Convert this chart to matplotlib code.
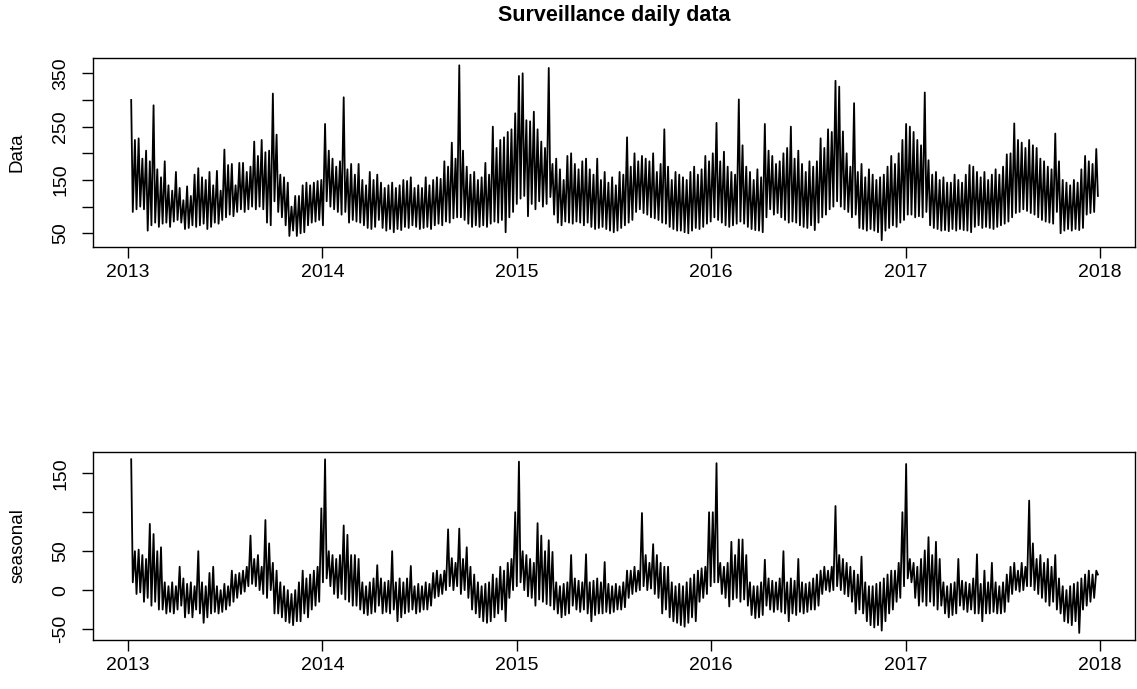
import numpy as np
import pandas as pd
import matplotlib
matplotlib.use("Agg")
import matplotlib.pyplot as plt

plt.rcParams['font.family'] = ['Liberation Sans', 'DejaVu Sans']

title = "Surveillance daily data"
ylabel_top = "Data"
ylabel_bottom = "seasonal"
year_ticks = [2013, 2014, 2015, 2016, 2017, 2018]
start_date = "2013-01-07"   # first observation, one high/low pair per week

# Data: weekly high and weekly low
data_hi_2013 = [300, 225, 228, 190, 205, 185, 290, 170, 155, 185, 140, 130, 165,
                135, 112, 138, 120, 160, 172, 155, 150, 165, 140, 167, 130, 207,
                178, 180, 140, 182, 182, 165, 175, 222, 195, 225, 202, 205, 312,
                235, 160, 155, 145, 100, 120, 120, 140, 145, 140, 145, 148, 150]
data_lo_2013 = [90, 95, 100, 95, 55, 65, 70, 62, 68, 70, 62, 72, 75,
                70, 58, 60, 65, 62, 65, 68, 58, 62, 70, 68, 75, 80,
                85, 82, 90, 95, 90, 95, 100, 95, 100, 95, 70, 65, 110,
                90, 80, 65, 45, 55, 45, 50, 52, 65, 70, 72, 75, 65]
data_hi_2014 = [255, 205, 190, 175, 185, 305, 170, 180, 160, 180, 150, 140, 165,
                150, 160, 145, 135, 140, 145, 135, 140, 150, 148, 155, 135, 140,
                135, 155, 140, 150, 155, 152, 185, 175, 220, 190, 365, 205, 175,
                160, 165, 150, 155, 182, 160, 250, 210, 225, 230, 240, 245, 275]
data_lo_2014 = [110, 100, 95, 90, 85, 90, 70, 75, 72, 70, 65, 60, 58,
                62, 75, 60, 55, 58, 52, 58, 56, 62, 60, 65, 62, 58,
                60, 62, 58, 65, 68, 65, 72, 70, 78, 80, 80, 75, 68,
                62, 65, 62, 65, 62, 68, 72, 70, 75, 52, 80, 90, 105]
data_hi_2015 = [345, 350, 262, 260, 278, 245, 222, 210, 360, 180, 190, 170, 150,
                195, 200, 180, 170, 185, 190, 170, 160, 190, 150, 165, 145, 155,
                140, 165, 160, 230, 175, 200, 185, 195, 190, 185, 200, 165, 180,
                245, 175, 150, 165, 160, 155, 150, 165, 175, 160, 170, 195, 185]
data_lo_2015 = [115, 120, 82, 105, 95, 110, 100, 105, 118, 85, 70, 65, 72,
                70, 68, 72, 70, 65, 70, 62, 58, 60, 62, 58, 55, 52,
                55, 60, 65, 70, 75, 90, 95, 88, 85, 80, 78, 75, 70,
                68, 62, 58, 55, 55, 52, 50, 55, 60, 58, 62, 68, 72]
data_hi_2016 = [200, 257, 185, 203, 175, 165, 160, 301, 215, 175, 165, 150, 170,
                155, 255, 205, 195, 180, 185, 200, 210, 250, 190, 205, 180, 165,
                185, 175, 185, 228, 210, 245, 240, 336, 325, 241, 200, 175, 294,
                165, 180, 155, 170, 160, 150, 155, 160, 175, 195, 180, 200, 225]
data_lo_2016 = [80, 75, 70, 65, 62, 65, 68, 72, 68, 62, 58, 56, 55,
                52, 80, 95, 85, 88, 80, 75, 70, 72, 70, 65, 62, 60,
                65, 56, 70, 80, 85, 95, 100, 110, 100, 95, 90, 80, 85,
                60, 58, 55, 58, 55, 52, 37, 55, 60, 65, 62, 70, 75]
data_hi_2017 = [255, 250, 240, 225, 215, 314, 187, 160, 165, 150, 155, 145, 145,
                160, 150, 145, 160, 178, 175, 165, 155, 165, 150, 160, 170, 160,
                175, 198, 200, 256, 225, 220, 210, 225, 215, 210, 190, 185, 175,
                170, 237, 185, 150, 145, 140, 150, 145, 170, 195, 185, 180, 208]
data_lo_2017 = [85, 85, 80, 82, 80, 90, 65, 60, 58, 55, 56, 54, 58,
                55, 58, 56, 55, 52, 62, 65, 60, 62, 60, 58, 62, 65,
                68, 72, 80, 88, 90, 95, 92, 88, 85, 80, 75, 72, 70,
                68, 90, 50, 55, 58, 55, 58, 56, 60, 85, 88, 90, 120]

# seasonal: weekly high and weekly low
seas_hi_2013 = [168, 50, 52, 45, 40, 85, 72, 50, 55, 10, 5, 10, 5,
                30, 15, 8, 10, 5, 50, 10, 5, 22, 30, 5, 0, 8,
                5, 25, 20, 22, 25, 30, 70, 40, 45, 30, 90, 60, 35,
                25, 10, 5, 0, -5, 0, 10, 25, 15, 20, 25, 30, 105]
seas_lo_2013 = [10, -5, -3, -15, -10, -20, -15, -25, -25, -30, -28, -30, -25,
                -20, -35, -30, -35, -25, -30, -42, -35, -30, -28, -30, -28, -25,
                -20, -15, -10, -5, -2, 5, 8, 5, 0, -5, -10, 0, -30,
                -30, -35, -40, -42, -45, -40, -40, -30, -35, -25, -20, -15, 10]
seas_hi_2014 = [168, 50, 45, 40, 45, 83, 71, 45, 45, 40, 10, 5, 10,
                15, 32, 15, 10, 12, 50, 10, 15, 10, 15, 31, 5, 8,
                5, 10, 8, 22, 25, 20, 25, 78, 41, 35, 79, 40, 55,
                30, 20, 10, 5, 8, 10, 20, 15, 30, 25, 35, 40, 100]
seas_lo_2014 = [15, 5, -5, -10, -5, -12, -15, -20, -20, -25, -30, -32, -30,
                -28, -20, -30, -28, -30, -25, -40, -35, -30, -28, -25, -30, -28,
                -25, -25, -20, -10, -8, -5, 0, 5, 0, 5, -5, 0, -10,
                -25, -30, -35, -40, -42, -40, -35, -30, -25, -40, -10, 0, 5]
seas_hi_2015 = [165, 50, 45, 40, 35, 86, 70, 50, 64, 49, 10, 5, 8,
                10, 45, 15, 12, 10, 46, 10, 12, 15, 10, 36, 8, 5,
                8, 5, 10, 25, 25, 30, 25, 99, 45, 35, 59, 45, 35,
                30, 30, 10, 5, 8, 5, 10, 15, 20, 25, 28, 30, 100]
seas_lo_2015 = [10, 0, -8, -10, -20, -12, -15, -18, -20, -25, -30, -35, -32,
                -30, -20, -25, -28, -25, -30, -40, -32, -30, -30, -28, -30, -28,
                -25, -25, -22, -10, -5, -2, 0, 5, 0, 2, -5, -10, -30,
                -25, -35, -40, -42, -45, -47, -42, -35, -40, -15, -10, -5, 5]
seas_hi_2016 = [100, 163, 35, 30, 35, 62, 45, 65, 65, 45, 10, 5, 5,
                10, 39, 15, 12, 10, 15, 50, 10, 15, 12, 40, 10, 8,
                10, 15, 20, 25, 30, 25, 30, 108, 45, 40, 35, 30, 25,
                20, 43, 10, 5, 5, 8, 10, 15, 20, 25, 25, 35, 100]
seas_lo_2016 = [10, 10, -5, -10, -21, -12, -10, -15, -12, -20, -32, -36, -35,
                -32, -20, -25, -28, -25, -28, -30, -40, -30, -32, -28, -30, -28,
                -25, -25, -20, -5, 0, -2, 0, 5, 0, -5, -8, -15, -30,
                -25, -30, -40, -45, -48, -45, -52, -40, -30, -25, -15, -10, 5]
seas_hi_2017 = [162, 40, 35, 30, 40, 51, 68, 45, 62, 40, 10, 5, 8,
                10, 40, 12, 10, 8, 15, 46, 8, 25, 10, 35, 10, 5,
                10, 20, 30, 35, 25, 35, 30, 115, 60, 40, 45, 35, 40,
                30, 45, 15, 5, 0, 5, 8, 10, 15, 20, 25, 20, 25]
seas_lo_2017 = [15, 10, -10, -20, -15, -20, -15, -20, -25, -20, -30, -35, -32,
                -30, -20, -25, -28, -25, -30, -30, -40, -30, -30, -28, -30, -30,
                -28, -15, -5, 0, -2, 0, 5, 5, 0, -5, -10, -15, -20,
                -15, -25, -30, -40, -42, -45, -40, -55, -25, -20, -15, -10, 20]


def weekly_series(hi, lo):
    weeks = pd.date_range(start_date, periods=len(hi), freq="7D")
    lows = weeks + pd.Timedelta(days=3)
    t = np.empty(2 * len(hi))
    y = np.empty(2 * len(hi))
    t[0::2] = weeks.year + (weeks.dayofyear - 1) / np.where(weeks.is_leap_year, 366, 365)
    t[1::2] = lows.year + (lows.dayofyear - 1) / np.where(lows.is_leap_year, 366, 365)
    y[0::2] = hi
    y[1::2] = lo
    return t, y


data_hi = data_hi_2013 + data_hi_2014 + data_hi_2015 + data_hi_2016 + data_hi_2017
data_lo = data_lo_2013 + data_lo_2014 + data_lo_2015 + data_lo_2016 + data_lo_2017
seas_hi = seas_hi_2013 + seas_hi_2014 + seas_hi_2015 + seas_hi_2016 + seas_hi_2017
seas_lo = seas_lo_2013 + seas_lo_2014 + seas_lo_2015 + seas_lo_2016 + seas_lo_2017

t1, y1 = weekly_series(data_hi, data_lo)
t2, y2 = weekly_series(seas_hi, seas_lo)

W, H = 1137, 689
fig = plt.figure(figsize=(W / 100, H / 100), dpi=100)
ax1 = fig.add_axes([93 / W, 1 - 247 / H, (1135 - 93) / W, 189 / H])
ax2 = fig.add_axes([93 / W, 1 - 640 / H, (1135 - 93) / W, 188 / H])

ax1.plot(t1, y1, color='black', lw=1.3)
ax2.plot(t2, y2, color='black', lw=1.3)

ax1.set_ylim(24.3, 378.7)
ax2.set_ylim(-64.1, 177.4)
ax1.set_yticks([50, 100, 150, 200, 250, 300, 350])
ax1.set_yticklabels(['50', '', '150', '', '250', '', '350'])
ax2.set_yticks([-50, 0, 50, 100, 150])
ax2.set_yticklabels(['-50', '0', '50', '', '150'])

for ax in (ax1, ax2):
    ax.set_xlim(2012.82, 2018.18)
    ax.set_xticks(year_ticks)
    ax.set_xticklabels([str(y) for y in year_ticks])
    ax.tick_params(axis='both', length=8, width=1.0, labelsize=14, color='black')
    ax.tick_params(axis='x', pad=4)
    ax.tick_params(axis='y', pad=9, labelrotation=90)
    plt.setp(ax.get_yticklabels(), va='center')
    for s in ax.spines.values():
        s.set_linewidth(1.0)
        s.set_color('black')

fig.text(614 / W, 1 - 15 / H, title, ha='center', va='center',
         fontsize=15.5, fontweight='bold')
fig.text(17 / W, 1 - 152 / H, ylabel_top, rotation=90, ha='center', va='center', fontsize=13.5)
fig.text(18 / W, 1 - 546 / H, ylabel_bottom, rotation=90, ha='center', va='center', fontsize=13.5)

fig.savefig("out.png", dpi=100)
